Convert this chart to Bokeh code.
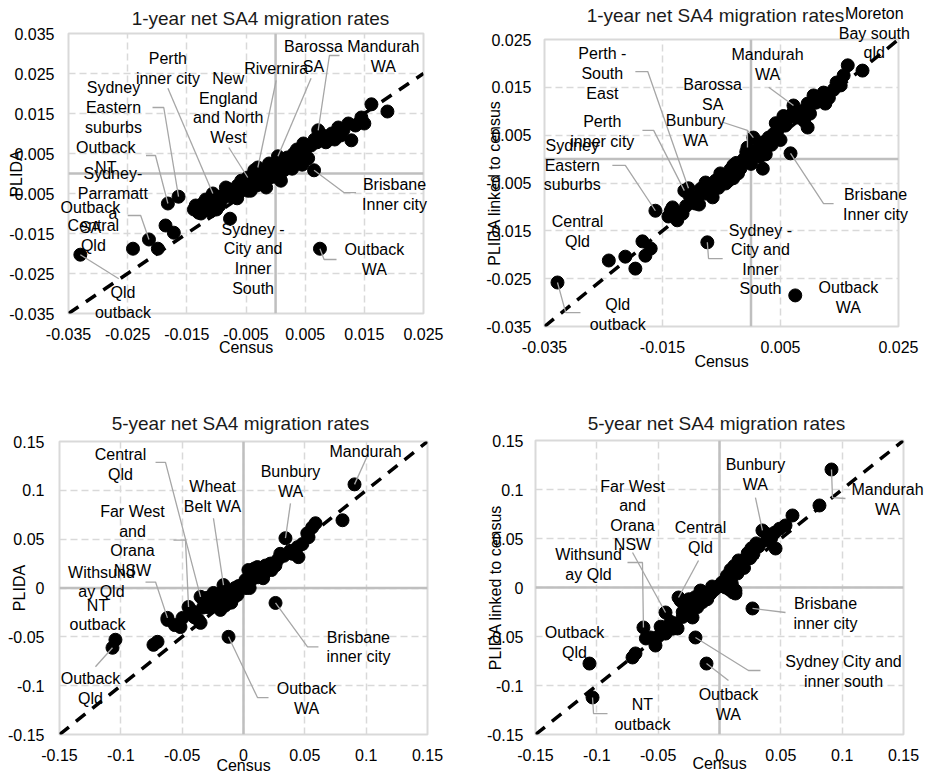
from bokeh.plotting import figure
from bokeh.layouts import column, row
from bokeh.models import Range1d, Span, ColumnDataSource
from bokeh.core.properties import value
from bokeh.embed import file_html
from bokeh.resources import INLINE

FONT = "Liberation Sans"

# ---------------- DATA ----------------
# Panel 1: 1-year, PLIDA vs Census
NAMES_1 = ["Mandurah WA", "Barossa SA", "Rivernira", "Perth inner city", "New England and North West",
           "Sydney Eastern suburbs", "Outback NT", "Sydney-Parramatta", "Outback SA", "Central Qld",
           "Qld outback", "Sydney - City and Inner South", "Outback WA", "Brisbane Inner city"]
NAMED_CENSUS_1 = [0.0072, 0.0004, -0.0030, -0.0106, -0.0047, -0.0164, -0.0182, -0.0214, -0.0241, -0.0199,
                  -0.0330, -0.0077, 0.0075, 0.0065]
NAMED_PLIDA_1 = [0.0108, 0.0043, 0.0015, -0.0050, -0.0010, -0.0058, -0.0075, -0.0165, -0.0188, -0.0188,
                 -0.0203, -0.0113, -0.0188, 0.0008]
OTHER_CENSUS_1 = [0.0189, 0.0162, 0.0145, 0.0128, 0.0123, 0.0106, 0.0089, 0.0055, 0.0047, 0.0031, 0.0014,
                  -0.0011, -0.0025, -0.0036, -0.0047, -0.0058, -0.0064, -0.0081, -0.0084, -0.0092, -0.0114,
                  -0.0123, -0.0126, -0.0138, -0.0172, -0.0186, 0.0009, -0.0016, -0.0042,
                  -0.0100, -0.0088, -0.0070, -0.0060, -0.0052, -0.0040, -0.0032, -0.0022, -0.0018, -0.0008,
                  -0.0003, 0.0002, 0.0008, 0.0012, 0.0020, 0.0024, 0.0036, 0.0040, 0.0050, 0.0060, 0.0066,
                  0.0080, 0.0095, 0.0100, 0.0115, 0.0135, 0.0045, 0.0028, -0.0012, -0.0065, -0.0100,
                  -0.0130, -0.0118,
                  -0.0095, -0.0075, -0.0055, -0.0045, -0.0028, -0.0005, 0.0005, 0.0018, 0.0033, 0.0042,
                  0.0070, 0.0085, 0.0110, 0.0150, -0.0135, -0.0110]
OTHER_PLIDA_1 = [0.0155, 0.0173, 0.0140, 0.0083, 0.0125, 0.0115, 0.0090, 0.0038, 0.0075, 0.0050, 0.0008,
                 0.0025, -0.0018, 0.0008, -0.0043, -0.0018, -0.0030, -0.0038, -0.0035, -0.0068, -0.0085,
                 -0.0075, -0.0100, -0.0090, -0.0148, -0.0130, -0.0018, -0.0035, -0.0043,
                 -0.0072, -0.0055, -0.0048, -0.0040, -0.0022, -0.0025, -0.0030, -0.0005, 0.0005, 0.0010,
                 -0.0008, 0.0018, 0.0030, 0.0032, 0.0040, 0.0022, 0.0060, 0.0038, 0.0060, 0.0070, 0.0085,
                 0.0095, 0.0100, 0.0085, 0.0110, 0.0120, 0.0022, 0.0012, -0.0012, -0.0062, -0.0090,
                 -0.0098, -0.0065,
                 -0.0080, -0.0058, -0.0032, -0.0015, -0.0008, 0.0005, 0.0025, 0.0028, 0.0035, 0.0055,
                 0.0078, 0.0078, 0.0095, 0.0125, -0.0080, -0.0095]

# Panel 2: 1-year, PLIDA linked to census vs Census
NAMES_2 = ["Moreton Bay south qld", "Mandurah WA", "Barossa SA", "Bunbury WA", "Perth - South East",
           "Perth inner city", "Sydney Eastern suburbs", "Brisbane Inner city", "Central Qld",
           "Sydney - City and Inner South", "Outback WA", "Qld outback"]
NAMED_CENSUS_2 = [0.0189, 0.0072, 0.0004, -0.0006, -0.0106, -0.0113, -0.0162, 0.0067, -0.0184, -0.0074,
                  0.0075, -0.0328]
NAMED_PLIDA_2 = [0.0185, 0.0112, 0.0045, 0.0024, -0.0061, -0.0066, -0.0108, 0.0012, -0.0172, -0.0174,
                 -0.0285, -0.0258]
OTHER_CENSUS_2 = [0.0164, 0.0157, 0.0152, 0.0126, 0.0123, 0.0106, 0.0096, 0.0096, 0.0079, 0.0058, 0.0045,
                  0.0030, 0.0020, 0.0008, -0.0018, -0.0030, -0.0038, -0.0052, -0.0065, -0.0077, -0.0091,
                  -0.0120, -0.0133, -0.0125, -0.0116, -0.0094, -0.0077, -0.0055, -0.0043, -0.0170, -0.0179,
                  -0.0196, -0.0213, -0.0241, -0.0136,
                  -0.0100, -0.0085, -0.0068, -0.0060, -0.0045, -0.0035, -0.0025, -0.0012, -0.0002, 0.0012,
                  0.0020, 0.0038, 0.0050, 0.0062, 0.0085, 0.0090, 0.0110, 0.0140, 0.0055, -0.0030, -0.0110,
                  0.0000, 0.0025,
                  -0.0140, -0.0105, -0.0088, -0.0070, -0.0048, -0.0022, -0.0008, 0.0015, 0.0035, 0.0042,
                  0.0070, 0.0100, 0.0115, 0.0132, 0.0145]
OTHER_PLIDA_2 = [0.0196, 0.0175, 0.0154, 0.0116, 0.0139, 0.0133, 0.0116, 0.0066, 0.0087, 0.0070, 0.0060,
                 0.0045, -0.0020, 0.0012, -0.0020, -0.0013, -0.0045, -0.0030, -0.0080, -0.0049, -0.0080,
                 -0.0112, -0.0101, -0.0128, -0.0114, -0.0093, -0.0072, -0.0060, -0.0051, -0.0187, -0.0202,
                 -0.0229, -0.0204, -0.0212, -0.0108,
                 -0.0085, -0.0062, -0.0058, -0.0045, -0.0035, -0.0022, -0.0008, 0.0000, 0.0008, 0.0022,
                 0.0035, 0.0052, 0.0040, 0.0085, 0.0100, 0.0080, 0.0118, 0.0145, 0.0090, -0.0040, -0.0098,
                 -0.0010, 0.0010,
                 -0.0120, -0.0075, -0.0095, -0.0065, -0.0040, -0.0030, 0.0015, 0.0005, 0.0030, 0.0075,
                 0.0095, 0.0095, 0.0125, 0.0128, 0.0160]

# Panel 3: 5-year, PLIDA vs Census
NAMES_3 = ["Mandurah", "Bunbury WA", "Wheat Belt WA", "Central Qld", "Far West and Orana NSW",
           "Withsunday Qld", "NT outback", "Outback Qld", "Brisbane inner city", "Outback WA"]
NAMED_CENSUS_3 = [0.0905, 0.0342, -0.0163, -0.0350, -0.0448, -0.0620, -0.1044, -0.1068, 0.0261, -0.0122]
NAMED_PLIDA_3 = [0.1061, 0.0510, 0.0030, -0.0090, -0.0194, -0.0306, -0.0530, -0.0612, -0.0153, -0.0500]
OTHER_CENSUS_3 = [0.0807, 0.0587, 0.0520, 0.0530, 0.0448, 0.0440, 0.0277, 0.0228, 0.0196, 0.0114, 0.0106,
                  0.0065, 0.0040, 0.0016, 0.0008, -0.0049, -0.0082, -0.0188, -0.0188, -0.0245, -0.0253,
                  -0.0294, -0.0326, -0.0350, -0.0367, -0.0432, -0.0497, -0.0514, -0.0620, -0.0701, -0.0734,
                  0.0300, 0.0250, 0.0150, 0.0080, 0.0000, -0.0030, -0.0060, -0.0100, -0.0130, -0.0150,
                  -0.0200, -0.0220, -0.0280, -0.0400, 0.0050, 0.0120, 0.0180, 0.0380, 0.0160, -0.0070,
                  -0.0150,
                  -0.0400, -0.0330, -0.0280, -0.0220, -0.0180, -0.0120, -0.0100, -0.0040, 0.0020, 0.0060,
                  0.0090, 0.0130, 0.0170, 0.0220, 0.0260, 0.0330, 0.0400, 0.0480, 0.0560, -0.0560]
OTHER_PLIDA_3 = [0.0694, 0.0663, 0.0560, 0.0520, 0.0316, 0.0418, 0.0286, 0.0184, 0.0184, 0.0214, 0.0184,
                 0.0082, 0.0184, 0.0082, 0.0030, -0.0071, -0.0102, -0.0122, -0.0224, -0.0051, -0.0153,
                 -0.0100, -0.0122, -0.0357, -0.0327, -0.0224, -0.0306, -0.0400, -0.0327, -0.0551, -0.0582,
                 0.0350, 0.0250, 0.0150, 0.0120, 0.0040, -0.0010, -0.0040, -0.0060, -0.0120, -0.0180,
                 -0.0080, -0.0180, -0.0200, -0.0300, 0.0000, 0.0110, 0.0230, 0.0380, 0.0100, 0.0000,
                 -0.0050,
                 -0.0250, -0.0200, -0.0120, -0.0080, -0.0050, -0.0030, -0.0150, 0.0020, 0.0000, 0.0150,
                 0.0200, 0.0160, 0.0200, 0.0250, 0.0230, 0.0330, 0.0350, 0.0450, 0.0620, -0.0380]

# Panel 4: 5-year, PLIDA linked to census vs Census
NAMES_4 = ["Bunbury WA", "Mandurah WA", "Far West and Orana NSW", "Withsunday Qld", "Central Qld",
           "Brisbane inner city", "Sydney City and inner south", "Outback WA", "Outback Qld", "NT outback"]
NAMED_CENSUS_4 = [0.0350, 0.0913, -0.0440, -0.0620, -0.0334, 0.0269, -0.0196, -0.0106, -0.1060, -0.1035]
NAMED_PLIDA_4 = [0.0582, 0.1204, -0.0255, -0.0408, -0.0102, -0.0214, -0.0510, -0.0776, -0.0776, -0.1122]
OTHER_CENSUS_4 = [0.0815, 0.0595, 0.0538, 0.0457, 0.0391, 0.0277, 0.0195, 0.0155, 0.0146, 0.0130, 0.0130,
                  0.0073, 0.0049, -0.0073, -0.0114, -0.0155, -0.0171, -0.0171, -0.0220, -0.0261, -0.0277,
                  -0.0318, -0.0342, -0.0359, -0.0440, -0.0457, -0.0522, -0.0562, -0.0685, -0.0709,
                  0.0250, 0.0200, 0.0100, 0.0050, 0.0000, -0.0050, -0.0100, -0.0140, -0.0200, -0.0240,
                  -0.0300, -0.0400, 0.0080, 0.0320, 0.0420, 0.0100, -0.0060, -0.0220,
                  -0.0600, -0.0500, -0.0480, -0.0380, -0.0300, -0.0280, -0.0250, -0.0180, -0.0130, -0.0080,
                  -0.0030, 0.0020, 0.0060, 0.0090, 0.0120, 0.0170, 0.0230, 0.0260, 0.0300, 0.0380,
                  0.0450, 0.0490, 0.0080, 0.0110]
OTHER_PLIDA_4 = [0.0837, 0.0735, 0.0633, 0.0398, 0.0480, 0.0347, 0.0276, 0.0276, 0.0143, -0.0061, -0.0030,
                 0.0071, 0.0000, -0.0061, -0.0061, -0.0031, -0.0082, -0.0163, -0.0306, -0.0204, -0.0214,
                 -0.0133, -0.0418, -0.0367, -0.0470, -0.0439, -0.0592, -0.0510, -0.0673, -0.0714,
                 0.0300, 0.0200, 0.0150, 0.0080, 0.0020, -0.0030, -0.0120, -0.0150, -0.0100, -0.0260,
                 -0.0300, -0.0350, -0.0020, 0.0420, 0.0500, 0.0040, 0.0010, -0.0150,
                 -0.0520, -0.0500, -0.0400, -0.0420, -0.0250, -0.0180, -0.0120, -0.0200, -0.0080, -0.0040,
                 -0.0010, 0.0050, 0.0120, 0.0180, 0.0220, 0.0250, 0.0350, 0.0400, 0.0450, 0.0550,
                 0.0560, 0.0600, 0.0030, -0.0050]

# Axis ticks
TICKS_1Y = [-0.035, -0.025, -0.015, -0.005, 0.005, 0.015, 0.025, 0.035]
TICKS_1X = [-0.035, -0.025, -0.015, -0.005, 0.005, 0.015, 0.025]
TICKS_2X = [-0.035, -0.015, 0.005, 0.025]
TICKS_2Y = [-0.035, -0.025, -0.015, -0.005, 0.005, 0.015, 0.025]
TICKS_5 = [-0.15, -0.1, -0.05, 0, 0.05, 0.1, 0.15]

TITLE_1 = "1-year net SA4 migration rates"
TITLE_5 = "5-year net SA4 migration rates"

# ---------------- LABEL LAYOUT (text, label x, label y, leader elbows in data units) ----------------
LAYOUT_1 = {
    "Mandurah WA": ("Mandurah\nWA", 0.0182, 0.0293, [(0.0108, 0.0295), (0.0091, 0.0295)]),
    "Barossa SA": ("Barossa\nSA", 0.0064, 0.0293, [(0.0060, 0.0238)]),
    "Rivernira": ("Rivernira", 0.0001, 0.0263, [(0.0001, 0.0233)]),
    "Perth inner city": ("Perth\ninner city", -0.0182, 0.0263, [(-0.0182, 0.0213)]),
    "New England and North West": ("New\nEngland\nand North\nWest", -0.0080, 0.0164, [(-0.0079, 0.0065)]),
    "Sydney Eastern suburbs": ("Sydney\nEastern\nsuburbs", -0.0274, 0.0165, [(-0.0208, 0.0165), (-0.0189, 0.0165)]),
    "Outback NT": ("Outback\nNT", -0.0287, 0.0040, [(-0.0219, 0.0045), (-0.0203, 0.0045)]),
    "Sydney-Parramatta": ("Sydney-\nParramatt\na", -0.0275, -0.0050, [(-0.0250, -0.0105), (-0.0228, -0.0105)]),
    "Outback SA": ("Outback\nSA", -0.0313, -0.0110, []),
    "Central Qld": ("Central\nQld", -0.0308, -0.0155, []),
    "Qld outback": ("Qld\noutback", -0.0258, -0.0323, [(-0.0265, -0.0263)]),
    "Sydney - City and Inner South": ("Sydney -\nCity and\nInner\nSouth", -0.0038, -0.0213, []),
    "Outback WA": ("Outback\nWA", 0.0167, -0.0215, [(0.0103, -0.0215), (0.0082, -0.0215)]),
    "Brisbane Inner city": ("Brisbane\nInner city", 0.0201, -0.0053, [(0.0136, -0.0048), (0.0116, -0.0048)]),
}
LAYOUT_2 = {
    "Moreton Bay south qld": ("Moreton\nBay south\nqld", 0.0209, 0.0263, []),
    "Mandurah WA": ("Mandurah\nWA", 0.0028, 0.0198, [(0.0030, 0.0150)]),
    "Barossa SA": ("Barossa\nSA", -0.0065, 0.0135, [(-0.0006, 0.0060)]),
    "Bunbury WA": ("Bunbury\nWA", -0.0094, 0.0060, [(-0.0048, 0.0077), (-0.0006, 0.0060)]),
    "Perth - South East": ("Perth -\nSouth\nEast", -0.0252, 0.0179, [(-0.0196, 0.0183), (-0.0175, 0.0183)]),
    "Perth inner city": ("Perth\ninner city", -0.0252, 0.0058, [(-0.0184, 0.0060), (-0.0165, 0.0060)]),
    "Sydney Eastern suburbs": ("Sydney\nEastern\nsuburbs", -0.0303, -0.0013, [(-0.0235, -0.0013), (-0.0213, -0.0013)]),
    "Brisbane Inner city": ("Brisbane\nInner city", 0.0211, -0.0095, [(0.0140, -0.0093), (0.0123, -0.0093)]),
    "Central Qld": ("Central\nQld", -0.0294, -0.0151, []),
    "Sydney - City and Inner South": ("Sydney -\nCity and\nInner\nSouth", 0.0016, -0.0210, [(-0.0048, -0.0208), (-0.0072, -0.0208)]),
    "Outback WA": ("Outback\nWA", 0.0165, -0.0289, []),
    "Qld outback": ("Qld\noutback", -0.0226, -0.0325, [(-0.0289, -0.0321), (-0.0314, -0.0321)]),
}
LAYOUT_3 = {
    "Mandurah": ("Mandurah", 0.0995, 0.1398, [(0.1011, 0.1357)]),
    "Bunbury WA": ("Bunbury\nWA", 0.0383, 0.1092, [(0.0383, 0.0867)]),
    "Wheat Belt WA": ("Wheat\nBelt WA", -0.0253, 0.0939, [(-0.0245, 0.0714)]),
    "Central Qld": ("Central\nQld", -0.1003, 0.1265, [(-0.0717, 0.1286), (-0.0636, 0.1286)]),
    "Far West and Orana NSW": ("Far West\nand\nOrana\nNSW", -0.0905, 0.0480, [(-0.0571, 0.0490), (-0.0473, 0.0490)]),
    "Withsunday Qld": ("Withsund\nay Qld", -0.1158, 0.0061, [(-0.0799, 0.0061), (-0.0717, 0.0061)]),
    "NT outback": ("NT\noutback", -0.1190, -0.0276, []),
    "Outback Qld": ("Outback\nQld", -0.1247, -0.1030, [(-0.1207, -0.0806)]),
    "Brisbane inner city": ("Brisbane\ninner city", 0.0937, -0.0602, [(0.0611, -0.0602), (0.0522, -0.0602)]),
    "Outback WA": ("Outback\nWA", 0.0514, -0.1133, [(0.0204, -0.1122), (0.0114, -0.1122)]),
}
LAYOUT_4 = {
    "Bunbury WA": ("Bunbury\nWA", 0.0293, 0.1153, [(0.0293, 0.0918)]),
    "Mandurah WA": ("Mandurah\nWA", 0.1370, 0.0898, [(0.1027, 0.0908), (0.0921, 0.0918)]),
    "Far West and Orana NSW": ("Far West\nand\nOrana\nNSW", -0.0709, 0.0735, [(-0.0709, 0.0357)]),
    "Withsunday Qld": ("Withsund\nay Qld", -0.1068, 0.0235, [(-0.0750, 0.0255), (-0.0628, 0.0255)]),
    "Central Qld": ("Central\nQld", -0.0155, 0.0510, [(-0.0171, 0.0276)]),
    "Brisbane inner city": ("Brisbane\ninner city", 0.0864, -0.0265, [(0.0538, -0.0255)]),
    "Sydney City and inner south": ("Sydney City and\ninner south", 0.1011, -0.0857, [(0.0334, -0.0847), (0.0236, -0.0847)]),
    "Outback WA": ("Outback\nWA", 0.0073, -0.1194, [(0.0073, -0.0949)]),
    "Outback Qld": ("Outback\nQld", -0.1182, -0.0561, []),
    "NT outback": ("NT\noutback", -0.0628, -0.1296, [(-0.0913, -0.1286), (-0.1027, -0.1286)]),
}


def fmt(t):
    return f"{t:g}"


def panel(title, ylabel, xlo, xhi, ylo, yhi, xticks, yticks, names, ncx, ncy, ocx, ocy, layout,
          w, h, bl, br, bt, bb, title_px, ylab_standoff, ytick_standoff, xlab_standoff):
    p = figure(width=w, height=h, x_range=Range1d(xlo, xhi), y_range=Range1d(ylo, yhi),
               output_backend="svg", toolbar_location=None,
               min_border_left=bl, min_border_right=br, min_border_top=bt, min_border_bottom=bb)
    p.background_fill_color = "white"
    p.border_fill_color = "white"
    p.outline_line_color = "#D9D9D9"
    p.outline_line_width = 2

    p.xaxis.ticker = xticks
    p.yaxis.ticker = yticks
    p.xaxis.major_label_overrides = {t: fmt(t) for t in xticks}
    p.yaxis.major_label_overrides = {t: fmt(t) for t in yticks}
    for ax in (p.xaxis[0], p.yaxis[0]):
        ax.axis_line_color = None
        ax.major_tick_line_color = None
        ax.minor_tick_line_color = None
        ax.major_tick_out = 0
        ax.major_tick_in = 0
        ax.major_label_text_font = FONT
        ax.major_label_text_font_size = "16px"
        ax.major_label_text_color = "#000000"
        ax.axis_label_text_font = FONT
        ax.axis_label_text_font_size = "16px"
        ax.axis_label_text_font_style = "normal"
        ax.axis_label_text_color = "#000000"
    p.xaxis.axis_label = "Census"
    p.yaxis.axis_label = ylabel
    p.xaxis.major_label_standoff = 14
    p.xaxis.axis_label_standoff = xlab_standoff
    p.yaxis.major_label_standoff = ytick_standoff
    p.yaxis.axis_label_standoff = ylab_standoff

    for g in (p.xgrid[0], p.ygrid[0]):
        g.grid_line_color = "#D9D9D9"
        g.grid_line_dash = "7 4"
        g.grid_line_width = 1.5

    p.add_layout(Span(location=0, dimension="height", line_color="#BFBFBF", line_width=2.5, level="underlay"))
    p.add_layout(Span(location=0, dimension="width", line_color="#BFBFBF", line_width=2.5, level="underlay"))

    # 1:1 reference line across the shared extent
    d_lo, d_hi = max(xlo, ylo), min(xhi, yhi)
    p.line([d_lo, d_hi], [d_lo, d_hi], line_color="black", line_width=3.5, line_dash="12 9")

    p.scatter(ocx, ocy, size=13, color="black")
    p.scatter(ncx, ncy, size=13, color="black")

    xs, ys = [], []
    for name, cx, cy in zip(names, ncx, ncy):
        text, lx, ly, elbows = layout[name]
        if elbows:
            xs.append([e[0] for e in elbows] + [cx])
            ys.append([e[1] for e in elbows] + [cy])
    p.multi_line(xs, ys, line_color="#A6A6A6", line_width=1.3)

    src = ColumnDataSource(dict(
        x=[layout[n][1] for n in names],
        y=[layout[n][2] for n in names],
        t=[layout[n][0] for n in names]))
    p.text(x="x", y="y", text="t", source=src, text_align="center", text_baseline="middle",
           text_font=value(FONT), text_font_size="16px", text_color="#000000",
           text_line_height=1.15, level="overlay")

    # chart title, placed above the plot area (pixel position converted to data units)
    fw, fh = w - bl - br, h - bt - bb
    tx = xlo + (title_px[0] - bl) / fw * (xhi - xlo)
    ty = yhi + (bt - title_px[1]) / fh * (yhi - ylo)
    p.text(x=[tx], y=[ty], text=[title], text_align="center", text_baseline="middle",
           text_font=value(FONT), text_font_size="19px", text_color="#1a1a1a", level="overlay")
    return p


p1 = panel(TITLE_1, "PLIDA", -0.035, 0.025, -0.035, 0.035, TICKS_1X, TICKS_1Y,
           NAMES_1, NAMED_CENSUS_1, NAMED_PLIDA_1, OTHER_CENSUS_1, OTHER_PLIDA_1, LAYOUT_1,
           465, 385, 68, 42, 33, 72, (260, 18), -19, 14, -4)

p2 = panel(TITLE_1, "PLIDA linked to census", -0.035, 0.025, -0.035, 0.025, TICKS_2X, TICKS_2Y,
           NAMES_2, NAMED_CENSUS_2, NAMED_PLIDA_2, OTHER_CENSUS_2, OTHER_PLIDA_2, LAYOUT_2,
           465, 385, 79, 32, 39, 59, (250, 15), -20, 13, -3)

p3 = panel(TITLE_5, "PLIDA", -0.15, 0.15, -0.15, 0.15, TICKS_5, TICKS_5,
           NAMES_3, NAMED_CENSUS_3, NAMED_PLIDA_3, OTHER_CENSUS_3, OTHER_PLIDA_3, LAYOUT_3,
           465, 391, 59, 38, 56, 41, (240, 38), -23, 15, -7)

p4 = panel(TITLE_5, "PLIDA linked to census", -0.15, 0.15, -0.15, 0.15, TICKS_5, TICKS_5,
           NAMES_4, NAMED_CENSUS_4, NAMED_PLIDA_4, OTHER_CENSUS_4, OTHER_PLIDA_4, LAYOUT_4,
           465, 391, 70, 27, 55, 42, (251, 38), -20, 12, -9)

# each figure wrapped on its own so that the row does not align the plot frames
layout = column(row(column(p1), column(p2)), row(column(p3), column(p4)))
open("out.html", "w").write(file_html(layout, INLINE))
